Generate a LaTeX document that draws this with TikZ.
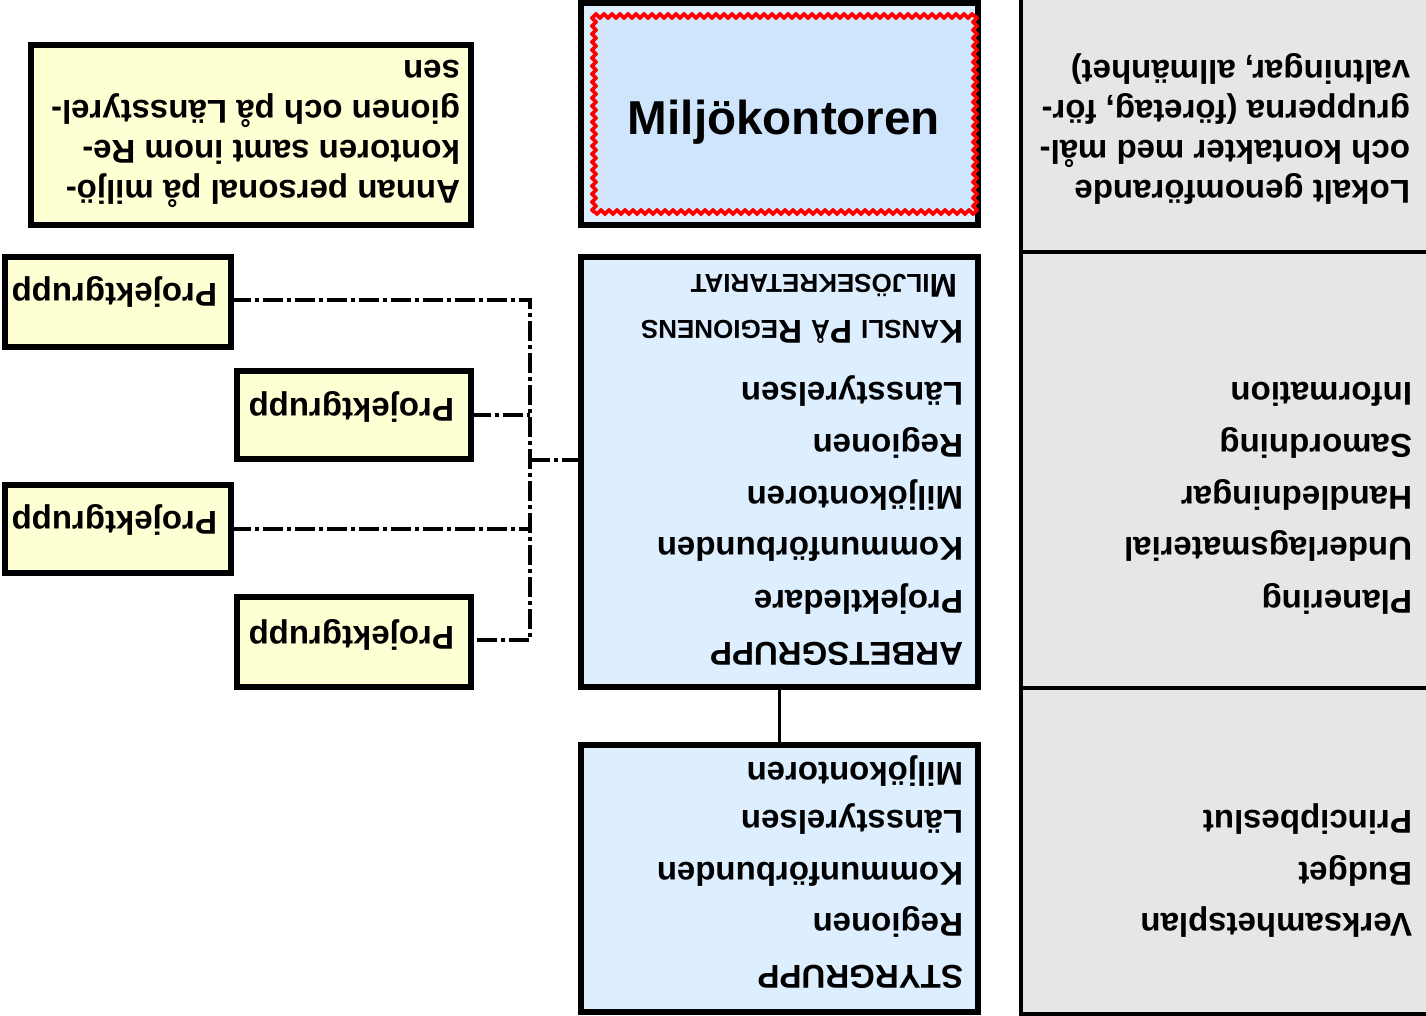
\documentclass[tikz,border=0pt]{standalone}
\usepackage{fontspec}
\setmainfont{Liberation Sans}
\usetikzlibrary{decorations.pathmorphing}
\definecolor{yfill}{RGB}{255,255,212}
\definecolor{bfill}{RGB}{221,238,255}
\definecolor{binner}{RGB}{206,229,252}
\definecolor{gfill}{RGB}{230,230,230}
\newcommand\myssc[1]{{\fontsize{13}{15}\selectfont #1}}
\tikzset{
  ybox/.style={draw, line width=3pt, fill=yfill, inner sep=0pt, outer sep=0pt},
  bbox/.style={draw, line width=3pt, fill=bfill, inner sep=0pt, outer sep=0pt},
  gbox/.style={draw, line width=2pt, fill=gfill, inner sep=0pt, outer sep=0pt},
  lbl/.style={font=\bfseries\fontsize{16.5}{19}\selectfont, rotate=180, anchor=base west, inner sep=0pt, outer sep=0pt},
  dashdotline/.style={line width=2pt, dash pattern=on 10pt off 2pt on 2pt off 2pt},
  solidline/.style={line width=1.6pt},
  redwave/.style={draw=red, line width=1.8pt, line join=round, line cap=round, decoration={zigzag, amplitude=1.1pt, segment length=4pt}}
}
\begin{document}
\begin{tikzpicture}[x=0.5pt, y=-0.5pt]
\useasboundingbox (0,0) rectangle (1426,1016);
% side panels
\node[gbox, minimum width=205.5pt, minimum height=127pt] (ptop) at (1226.5,125) {};
\node[gbox, minimum width=205.5pt, minimum height=218pt] (pmid) at (1226.5,470) {};
\node[gbox, minimum width=205.5pt, minimum height=163pt] (pbot) at (1226.5,851) {};
% blue boxes
\node[bbox, minimum width=198.5pt, minimum height=111pt] (mk) at (779.5,114) {};
\fill[binner] (594,16) rectangle (975,212);
\draw[redwave] decorate {(594,16) -- (975,16)} decorate {(975,16) -- (975,212)}
  decorate {(975,212) -- (594,212)} decorate {(594,212) -- (594,16)};
\node[font=\bfseries\fontsize{23.8}{26}\selectfont, anchor=base, inner sep=0pt] (mktext) at (784,135) {Miljökontoren};
\node[bbox, minimum width=198.5pt, minimum height=215pt] (ag) at (779.5,472) {};
\node[bbox, minimum width=198.5pt, minimum height=133.5pt] (sg) at (779.5,878.5) {};
% yellow boxes
\node[ybox, minimum width=220pt, minimum height=90pt] (note) at (251,135) {};
\node[ybox, minimum width=113pt, minimum height=45pt] (pg1) at (118,302) {};
\node[ybox, minimum width=117pt, minimum height=44pt] (pg2) at (354,415) {};
\node[ybox, minimum width=113pt, minimum height=44pt] (pg3) at (118,529) {};
\node[ybox, minimum width=117pt, minimum height=45pt] (pg4) at (354,642) {};
% connectors
\coordinate (jtop) at (530,300);
\coordinate (jbot) at (530,640);
\coordinate (jmid) at (530,460);
\draw[dashdotline] (pg1.east |- jtop) -- (jtop) -- (jbot) -- (pg4.east |- jbot);
\draw[dashdotline] (pg2.east) -- (pg2.east -| jtop);
\draw[dashdotline] (pg3.east) -- (pg3.east -| jtop);
\draw[dashdotline] (jmid) -- (jmid -| ag.west);
\draw[solidline] (ag.south) -- (sg.north);
% note text
\node[lbl] (n1) at (460,181) {Annan personal på miljö-};
\node[lbl] (n2) at (460,141) {kontoren samt inom Re-};
\node[lbl] (n3) at (460,101) {gionen och på Länsstyrel-};
\node[lbl] (n4) at (460,61) {sen};
% projektgrupp texts
\node[lbl] (t1) at (217,284) {Projektgrupp};
\node[lbl] (t2) at (454,399) {Projektgrupp};
\node[lbl] (t3) at (217,511) {Projektgrupp};
\node[lbl] (t4) at (454,626) {Projektgrupp};
% top panel
\node[lbl] (p1) at (1410,181) {Lokalt genomförande};
\node[lbl] (p2) at (1410,141) {och kontakter med mål-};
\node[lbl] (p3) at (1410,101) {grupperna (företag, för-};
\node[lbl] (p4) at (1410,61) {valtningar, allmänhet)};
% mid panel
\node[lbl] (m1) at (1412,383) {Information};
\node[lbl] (m2) at (1412,435) {Samordning};
\node[lbl] (m3) at (1412,487) {Handledningar};
\node[lbl] (m4) at (1412,538) {Underlagsmaterial};
\node[lbl] (m5) at (1412,590) {Planering};
% bottom panel
\node[lbl] (b1) at (1412,810) {Principbeslut};
\node[lbl] (b2) at (1412,862) {Budget};
\node[lbl] (b3) at (1412,913) {Verksamhetsplan};
% arbetsgrupp
\node[lbl] (a1) at (957,275) {M\myssc{ILJÖSEKRETARIAT}};
\node[lbl] (a2) at (963,321) {K\myssc{ANSLI} P\myssc{Å} R\myssc{EGIONENS}};
\node[lbl] (a3) at (963,383) {Länsstyrelsen};
\node[lbl] (a4) at (963,435) {Regionen};
\node[lbl] (a5) at (963,487) {Miljökontoren};
\node[lbl] (a6) at (963,538) {Kommunförbunden};
\node[lbl] (a7) at (963,590) {Projektledare};
\node[lbl] (a8) at (963,642) {ARBETSGRUPP};
% styrgrupp
\node[lbl] (s1) at (963,762) {Miljökontoren};
\node[lbl] (s2) at (963,810) {Länsstyrelsen};
\node[lbl] (s3) at (963,862) {Kommunförbunden};
\node[lbl] (s4) at (963,913) {Regionen};
\node[lbl] (s5) at (963,965) {STYRGRUPP};
\end{tikzpicture}
\end{document}
